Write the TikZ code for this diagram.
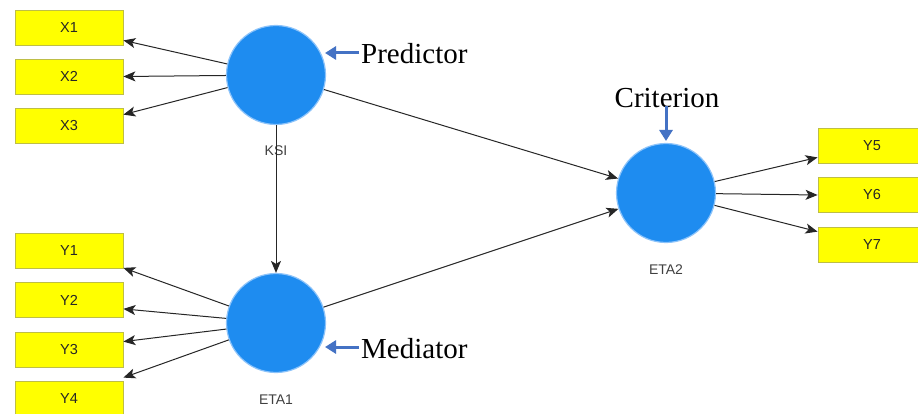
\documentclass[tikz,border=0pt]{standalone}
\usepackage{fontspec}
\setmainfont{Liberation Serif}
\setsansfont{Liberation Sans}
\usetikzlibrary{arrows.meta,calc}
\definecolor{lvblue}{RGB}{30,140,240}
\definecolor{halo}{RGB}{140,195,250}
\definecolor{boxyel}{RGB}{255,255,0}
\definecolor{boxedge}{RGB}{190,190,70}
\definecolor{callout}{RGB}{68,114,196}
\begin{document}
\begin{tikzpicture}[x=1pt,y=-1pt,
 ind/.style={draw=boxedge, fill=boxyel, line width=0.8pt, minimum width=108pt, minimum height=35pt, inner sep=0pt, font=\sffamily\fontsize{14.5}{14.5}\selectfont, text=black!85},
 lat/.style={circle, fill=lvblue, draw=halo, line width=1.2pt, minimum size=99pt, inner sep=0pt},
 lbl/.style={font=\sffamily\fontsize{14}{14}\selectfont, text=black!75, inner sep=0pt},
 conn/.style={-{Stealth[length=12pt,width=10pt,inset=3pt]}, line width=1pt, black!85},
 call/.style={-{Triangle[length=11pt,width=13pt]}, line width=3pt, callout},
 ann/.style={font=\fontsize{29}{29}\selectfont, inner sep=0pt}]
\useasboundingbox (0,0) rectangle (918,414);
\fill[white] (0,0) rectangle (918,414);
% indicators
\node[ind] (x1) at (69,27.5) {X1};
\node[ind] (x2) at (69,76.5) {X2};
\node[ind] (x3) at (69,125.5) {X3};
\node[ind] (y1) at (69,251) {Y1};
\node[ind] (y2) at (69,300) {Y2};
\node[ind] (y3) at (69,349.5) {Y3};
\node[ind] (y4) at (69,398.5) {Y4};
\node[ind] (y5) at (872,145.5) {Y5};
\node[ind] (y6) at (872,195) {Y6};
\node[ind] (y7) at (872,244.5) {Y7};
% latent variables
\node[lat] (ksi) at (276,75) {};
\node[lat] (eta1) at (276,323) {};
\node[lat] (eta2) at (666,193) {};
\node[lbl] (lksi) at (276,151) {KSI};
\node[lbl] (leta1) at (276,400) {ETA1};
\node[lbl] (leta2) at (666,270) {ETA2};
% target points on indicator edges
\coordinate (t1) at ($(x1.south east)+(0,-5)$);
\coordinate (t2) at (x2.east);
\coordinate (t3) at ($(x3.north east)+(0,7)$);
\coordinate (u1) at ($(y1.south east)+(0,-1)$);
\coordinate (u2) at ($(y2.south east)+(0,-9)$);
\coordinate (u3) at ($(y3.north east)+(0,10)$);
\coordinate (u4) at ($(y4.north east)+(0,-3)$);
\coordinate (v5) at ($(y5.south west)+(0,-6)$);
\coordinate (v6) at (y6.west);
\coordinate (v7) at ($(y7.north west)+(0,5)$);
% connectors
\draw[conn] (ksi) -- (t1);
\draw[conn] (ksi) -- (t2);
\draw[conn] (ksi) -- (t3);
\draw[conn] (eta1) -- (u1);
\draw[conn] (eta1) -- (u2);
\draw[conn] (eta1) -- (u3);
\draw[conn] (eta1) -- (u4);
\draw[conn] (eta2) -- (v5);
\draw[conn] (eta2) -- (v6);
\draw[conn] (eta2) -- (v7);
\draw[conn] (ksi) -- (eta1);
\draw[conn] (ksi) -- (eta2);
\draw[conn] (eta1) -- (eta2);
% annotations
\node[ann, anchor=base west] (pred) at (361,64) {Predictor};
\node[ann, anchor=base west] (med) at (361,358) {Mediator};
\node[ann, anchor=base] (crit) at (667,108) {Criterion};
\coordinate (pa) at (359,53);
\coordinate (pb) at (325,53);
\coordinate (ma) at (359,347);
\coordinate (mb) at (325,347);
\coordinate (ca) at (666,106);
\coordinate (cb) at (666,141);
\draw[call] (pa) -- (pb);
\draw[call] (ma) -- (mb);
\draw[call] (ca) -- (cb);
\end{tikzpicture}
\end{document}
